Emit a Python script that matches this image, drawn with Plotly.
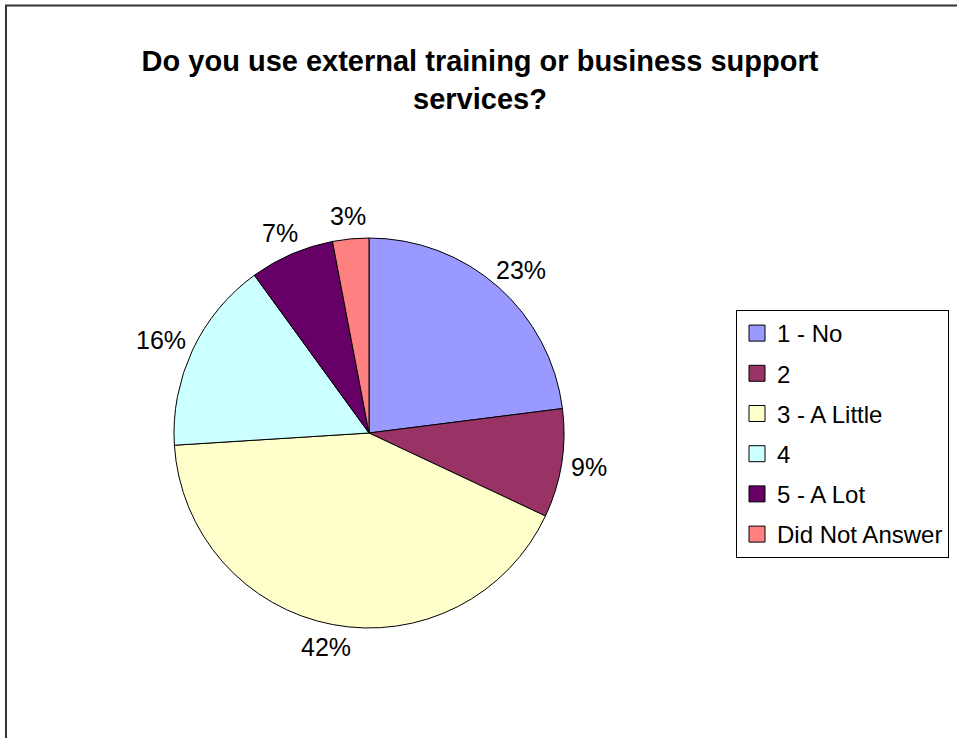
import math
import plotly.graph_objects as go

# Survey responses
labels = ["1 - No", "2", "3 - A Little", "4", "5 - A Lot", "Did Not Answer"]
values = [23, 9, 42, 16, 7, 3]
colors = ["#9999FF", "#993366", "#FFFFCC", "#CCFFFF", "#660066", "#FF8080"]

title_text = "Do you use external training or business support<br>services?"

# Canvas geometry (pixels)
W, H = 957, 738
CX, CY, R = 369, 433, 195
FONT = "Liberation Sans, Arial, sans-serif"
LABEL_SIZE = 25
LEGEND_SIZE = 24


def px_x(x):
    return x / W


def px_y(y):
    return 1 - y / H


fig = go.Figure()

fig.add_trace(go.Pie(
    labels=labels,
    values=values,
    sort=False,
    direction="clockwise",
    rotation=0,
    marker=dict(colors=colors, line=dict(color="black", width=1)),
    textinfo="none",
    hoverinfo="label+percent",
    showlegend=False,
    domain=dict(x=[px_x(CX - R), px_x(CX + R)], y=[px_y(CY + R), px_y(CY - R)]),
))

# Legend entries (one group each so the rows can be spaced apart)
for lab, col in zip(labels, colors):
    fig.add_trace(go.Scatter(
        x=[None], y=[None], mode="markers", name=lab, legendgroup=lab,
        marker=dict(symbol="square", size=16, color=col, line=dict(color="black", width=1)),
        hoverinfo="skip",
    ))

# Percentage labels placed just outside each slice
total = sum(values)
annotations = []
cum = 0.0
gap = 10
for v in values:
    mid = cum + v / 2
    theta = math.radians(90 - 360 * mid / total)
    ux, uy = math.cos(theta), math.sin(theta)
    txt = f"{round(v / total * 100)}%"
    ndig = len(txt) - 1
    hw = 0.5 * LABEL_SIZE * (0.556 * ndig + 0.889)
    hh = 0.5 * LABEL_SIZE
    lx = CX + (R + gap) * ux + hw * ux
    ly = CY - ((R + gap) * uy + hh * uy)
    annotations.append(dict(
        x=px_x(lx), y=px_y(ly), xref="paper", yref="paper",
        text=txt, showarrow=False, xanchor="center", yanchor="middle",
        font=dict(family=FONT, size=LABEL_SIZE, color="black"),
    ))
    cum += v

fig.update_layout(
    width=W, height=H,
    margin=dict(l=0, r=0, t=0, b=0),
    paper_bgcolor="white",
    plot_bgcolor="white",
    font=dict(family=FONT, color="black"),
    title=dict(
        text=title_text,
        x=px_x(480), xanchor="center",
        y=px_y(71), yref="container", yanchor="top",
        font=dict(family=FONT, size=29, color="black", weight="bold"),
    ),
    xaxis=dict(visible=False),
    yaxis=dict(visible=False),
    legend=dict(
        x=px_x(736), y=px_y(310), xanchor="left", yanchor="top",
        bordercolor="black", borderwidth=1, bgcolor="white",
        font=dict(family=FONT, size=LEGEND_SIZE, color="black"),
        traceorder="grouped", tracegroupgap=6,
    ),
    annotations=annotations,
    shapes=[dict(
        type="rect", xref="paper", yref="paper",
        x0=px_x(6), x1=1.1, y0=-0.1, y1=px_y(5.5),
        line=dict(color="#333333", width=2), fillcolor="rgba(0,0,0,0)",
    )],
)

fig.write_html("out.html")
